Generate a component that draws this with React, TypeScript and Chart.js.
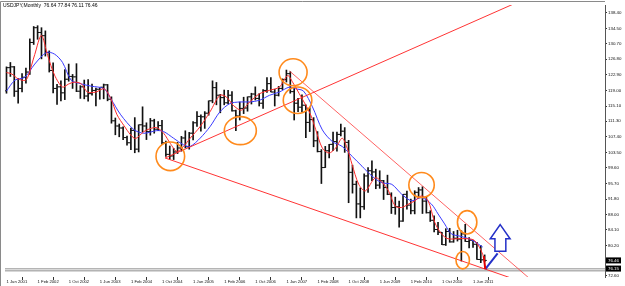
import React, { useEffect, useRef } from "react";
import { Chart, registerables } from "chart.js";

Chart.register(...registerables);

const symbolTitle = "USDJPY,Monthly  76.64 77.84 76.11 76.46";

// Monthly bars, Jun 2001 (index 0) .. Sep 2011 (index 123)
const opens = [
  118.9, 124.7, 124.9, 118.8, 119.5, 122.3, 123.6, 131.0, 134.7, 133.5, 132.7, 128.5,
  124.0, 119.5, 119.9, 118.4, 121.8, 122.5, 122.4, 118.8, 119.9, 117.6, 118.2, 119.0,
  119.3, 119.8, 120.4, 116.8, 111.4, 110.1, 109.6, 107.2, 105.9, 109.0, 104.3, 110.4,
  110.1, 108.7, 111.4, 109.3, 110.2, 105.9, 103.0, 102.6, 103.6, 104.6, 107.1, 104.9,
  108.3, 110.9, 112.5, 112.4, 113.3, 116.4, 119.7, 117.8, 117.2, 115.9, 117.8, 113.9,
  112.6, 114.5, 114.6, 117.4, 118.1, 117.0, 115.8, 119.0, 120.7, 118.6, 117.8, 119.5,
  121.7, 123.2, 118.7, 115.8, 114.8, 115.3, 111.0, 111.7, 106.4, 103.7, 99.7, 103.9,
  105.5, 106.2, 108.0, 108.8, 106.0, 98.5, 95.5, 90.6, 89.9, 97.6, 98.9, 98.6,
  95.3, 96.4, 94.7, 93.0, 89.7, 89.9, 86.3, 93.0, 90.3, 88.9, 93.5, 94.1,
  91.3, 88.4, 86.5, 84.2, 83.5, 80.4, 83.7, 81.1, 82.0, 81.8, 83.1, 81.2,
  81.5, 80.5, 76.7, 76.64,
];
const highs = [
  124.9, 126.0, 125.0, 122.0, 123.2, 124.6, 131.9, 135.0, 135.2, 134.7, 133.9, 128.9,
  125.9, 120.5, 121.4, 124.2, 125.6, 123.0, 125.7, 120.2, 121.6, 121.7, 120.6, 119.6,
  119.7, 120.6, 120.5, 117.4, 112.1, 110.6, 109.9, 107.6, 109.6, 112.2, 110.4, 114.9,
  110.9, 112.0, 111.8, 111.2, 111.5, 106.3, 105.1, 104.5, 106.0, 107.5, 108.9, 108.5,
  111.2, 113.7, 112.9, 113.7, 116.4, 121.4, 121.0, 118.0, 119.1, 119.0, 118.7, 114.1,
  116.1, 117.3, 117.4, 118.3, 119.9, 118.2, 119.2, 122.2, 122.2, 119.3, 120.0, 121.9,
  124.1, 123.7, 119.8, 117.0, 117.9, 115.4, 114.7, 112.2, 108.7, 104.2, 105.0, 105.5,
  108.6, 108.6, 110.6, 109.7, 106.5, 100.3, 96.3, 94.6, 98.1, 99.7, 101.4, 99.3,
  98.9, 96.5, 97.8, 93.4, 92.3, 91.3, 93.0, 93.8, 91.8, 93.9, 94.7, 94.9,
  92.5, 88.9, 87.6, 86.0, 83.5, 84.4, 84.5, 83.7, 84.0, 83.9, 85.5, 82.2,
  81.5, 81.0, 80.2, 77.84,
];
const lows = [
  118.3, 122.5, 117.5, 115.8, 118.6, 120.8, 123.0, 130.5, 131.8, 126.9, 127.6, 123.6,
  118.4, 115.5, 116.4, 116.7, 121.3, 119.5, 118.7, 117.0, 116.9, 116.3, 117.8, 115.1,
  116.8, 116.9, 116.4, 110.8, 107.9, 107.4, 106.7, 105.3, 104.2, 103.4, 103.6, 108.6,
  106.7, 107.8, 108.3, 108.9, 105.5, 102.5, 101.8, 101.7, 103.2, 103.8, 104.6, 104.3,
  106.6, 110.0, 108.8, 109.5, 112.8, 115.9, 115.4, 113.4, 115.4, 115.6, 113.8, 108.9,
  111.6, 113.2, 113.8, 115.6, 116.6, 115.1, 114.5, 118.5, 118.6, 115.1, 117.6, 119.2,
  121.1, 118.3, 111.6, 113.7, 113.6, 107.2, 108.7, 104.9, 103.6, 95.7, 99.7, 102.1,
  103.9, 103.8, 107.6, 103.5, 90.9, 93.3, 87.1, 87.1, 89.2, 93.5, 96.4, 94.4,
  94.5, 91.7, 92.9, 88.2, 88.0, 84.8, 86.2, 89.3, 88.1, 88.1, 92.0, 88.2,
  88.3, 86.2, 83.6, 82.9, 80.4, 80.2, 81.0, 81.0, 81.3, 76.3, 81.2, 79.6,
  79.7, 76.7, 75.9, 76.11,
];
const closes = [
  124.7, 124.9, 118.8, 119.5, 122.3, 123.6, 131.0, 134.7, 133.5, 132.7, 128.5, 124.0,
  119.5, 119.9, 118.4, 121.8, 122.5, 122.4, 118.8, 119.9, 117.6, 118.2, 119.0, 119.3,
  119.8, 120.4, 116.8, 111.4, 110.1, 109.6, 107.2, 105.9, 109.0, 104.3, 110.4, 110.1,
  108.7, 111.4, 109.3, 110.2, 105.9, 103.0, 102.6, 103.6, 104.6, 107.1, 104.9, 108.3,
  110.9, 112.5, 112.4, 113.3, 116.4, 119.7, 117.8, 117.2, 115.9, 117.8, 113.9, 112.6,
  114.5, 114.6, 117.4, 118.1, 117.0, 115.8, 119.0, 120.7, 118.6, 117.8, 119.5, 121.7,
  123.2, 118.7, 115.8, 114.8, 115.3, 111.0, 111.7, 106.4, 103.7, 99.7, 103.9, 105.5,
  106.2, 108.0, 108.8, 106.0, 98.5, 95.5, 90.6, 89.9, 97.6, 98.9, 98.6, 95.3,
  96.4, 94.7, 93.0, 89.7, 89.9, 86.3, 93.0, 90.3, 88.9, 93.5, 94.1, 91.3,
  88.4, 86.5, 84.2, 83.5, 80.4, 83.7, 81.1, 82.0, 81.8, 83.1, 81.2, 81.5,
  80.5, 76.7, 76.6, 76.46,
];

// Fast (red) moving average: bar index / price
const redMaIdx = [
  0, 1.33, 3.01, 4.72, 5.48, 7.27, 8.98, 10.59, 12.37, 14.41, 15.94, 17.47, 19.26, 20.79,
  23.01, 25.13, 26.84, 28.44, 30.23, 31.94, 33.21, 35.33, 36.86, 38.65, 40.43, 42.14, 43.83,
  45.54, 47.24, 49.8, 52.35, 54.9, 56.58, 58.29, 60.41, 62.55, 65.1, 67.65, 70.2, 72.32,
  73.6, 75.31, 76.99, 78.27, 79.54, 81.25, 82.96, 84.64, 86.35, 87.63, 88.9, 90.61, 92.3,
  94.85, 96.56, 98.27, 99.95, 101.66, 103.37, 105.05, 106.76, 108.47, 110.15, 111.86,
  113.57, 116.12, 118.67, 120.36, 122.07, 122.91,
];
const redMaVal = [
  123.47, 123.13, 121.89, 121.49, 122.31, 128.0, 132.78, 127.76, 122.81, 119.84, 120.58,
  121.07, 120.65, 118.6, 118.6, 119.41, 116.94, 112.9, 110.18, 107.88, 106.96, 108.7, 109.4,
  109.69, 108.28, 105.73, 103.75, 104.98, 107.04, 109.93, 113.65, 117.78, 117.36, 115.31,
  114.07, 116.12, 118.18, 119.02, 119.84, 122.73, 121.07, 118.18, 115.31, 112.83, 109.2,
  104.56, 103.33, 104.56, 107.04, 104.56, 100.45, 95.5, 93.85, 97.14, 96.07, 93.85, 90.13,
  89.71, 90.55, 91.37, 92.61, 91.37, 86.0, 83.13, 81.89, 81.89, 81.89, 81.47, 78.99, 76.77,
];
// Slow (blue) moving average
const blueMaIdx = [
  0, 2.17, 4.72, 7.27, 10.26, 12.37, 14.41, 16.63, 19.18, 21.73, 25.13, 26.84, 29.39, 32.78,
  35.33, 38.65, 40.43, 42.98, 45.54, 47.24, 49.8, 52.35, 54.9, 57.45, 60.0, 62.55, 65.1,
  67.65, 70.2, 72.76, 74.44, 76.4, 78.7, 81.25, 83.8, 86.35, 88.9, 91.45, 94.01, 96.56,
  99.11, 101.66, 104.21, 106.76, 109.31, 111.02, 112.7, 114.41, 116.96, 119.52, 122.5,
];
const blueMaVal = [
  118.84, 121.57, 122.31, 125.6, 128.5, 128.08, 126.02, 121.57, 120.65, 120.08, 119.41,
  116.94, 112.9, 109.19, 108.28, 108.94, 108.7, 107.04, 105.4, 104.98, 107.04, 109.93,
  113.65, 115.7, 116.12, 116.12, 116.54, 117.78, 118.6, 119.84, 119.41, 118.84, 114.89,
  109.12, 106.22, 104.98, 102.51, 100.03, 97.56, 95.9, 95.5, 93.03, 91.37, 92.19, 90.55,
  88.08, 85.6, 83.13, 82.46, 81.64, 79.81,
];

// Axis ticks
const xTickIndex = [0, 8, 16, 24, 32, 40, 48, 56, 64, 72, 80, 88, 96, 104, 112, 120];
const xTickLabels = [
  "1 Jun 2001", "1 Feb 2002", "1 Oct 2002", "1 Jun 2003", "1 Feb 2004", "1 Oct 2004",
  "1 Jun 2005", "1 Feb 2006", "1 Oct 2006", "1 Jun 2007", "1 Feb 2008", "1 Oct 2008",
  "1 Jun 2009", "1 Feb 2010", "1 Oct 2010", "1 Jun 2011",
];
const yTickValues = [
  138.4, 134.5, 130.7, 126.8, 122.9, 119.0, 115.1, 111.3, 107.4, 103.5, 99.6, 95.7, 91.8,
  88.0, 84.1, 80.2, 72.6,
];
const bidLabels = ["76.46", "76.15"];
const bidValues = [76.46, 74.42];

// Drawn objects (bar index / price)
const trendUpX = [40.8, 140];
const trendUpY = [102.1, 144.75];
const trendLowX = [40.8, 131];
const trendLowY = [102.1, 71.64];
const trendDownX = [72.8, 136];
const trendDownY = [123.86, 70.7];
const hLineX = [-1, 160];
const hLineGrayY = 74.35;
const hLineDarkY = 73.85;
const vRedX = [122.76, 123.16];
const vRedY = [77.51, 74.29];
const vBlueX = [123.16, 126.33];
const vBlueY = [74.29, 78.25];
const circleX = [42.14, 60.15, 73.72, 74.87, 106.76, 118.49, 117.35];
const circleY = [102.51, 108.94, 123.55, 116.54, 95.33, 85.99, 76.52];
const arrowX = [126.99, 129.54, 128.44, 128.44, 125.64, 125.64, 124.44];
const arrowY = [85.43, 81.89, 81.89, 78.75, 78.75, 81.89, 81.89];

const circleRx = [14.3, 16, 14, 14.3, 12.7, 9.7, 6.7];
const circleRy = [14.3, 14, 13.5, 13.3, 12.5, 11.7, 8.7];

const BAR_COLOR = "#111111";
const FONT = '"Liberation Sans", Arial, sans-serif';

const pts = (xs: number[], ys: number[]) => xs.map((x, i) => ({ x, y: ys[i] }));

const overlayPlugin = {
  id: "overlay",
  afterDatasetsDraw(chart: any) {
    const { ctx, scales } = chart;
    const xs = scales.x;
    const ys = scales.y;
    ctx.save();
    ctx.strokeStyle = "#ff8a1c";
    ctx.lineWidth = 1.6;
    circleX.forEach((cx, i) => {
      ctx.beginPath();
      ctx.ellipse(
        xs.getPixelForValue(cx),
        ys.getPixelForValue(circleY[i]),
        circleRx[i],
        circleRy[i],
        0,
        0,
        Math.PI * 2
      );
      ctx.stroke();
    });
    ctx.beginPath();
    arrowX.forEach((ax, i) => {
      const px = xs.getPixelForValue(ax);
      const py = ys.getPixelForValue(arrowY[i]);
      if (i === 0) ctx.moveTo(px, py);
      else ctx.lineTo(px, py);
    });
    ctx.closePath();
    ctx.fillStyle = "#ffffff";
    ctx.fill();
    ctx.strokeStyle = "#2430c8";
    ctx.lineWidth = 1.5;
    ctx.stroke();
    ctx.restore();
  },
  afterDraw(chart: any) {
    const { ctx, scales, chartArea } = chart;
    const ys = scales.y;
    ctx.save();
    ctx.strokeStyle = "#8a8a8a";
    ctx.lineWidth = 1;
    ctx.beginPath();
    ctx.moveTo(0.5, 286);
    ctx.lineTo(0.5, 1.5);
    ctx.lineTo(chartArea.right, 1.5);
    ctx.stroke();
    ctx.fillStyle = "#000000";
    ctx.font = `5px ${FONT}`;
    ctx.textBaseline = "middle";
    ctx.textAlign = "left";
    ctx.fillText(symbolTitle, 3, 6);
    bidValues.forEach((v, i) => {
      const py = ys.getPixelForValue(v);
      ctx.fillStyle = "#000000";
      ctx.fillRect(chartArea.right + 1, py - 3, 15, 6);
      ctx.fillStyle = "#ffffff";
      ctx.font = `4.4px ${FONT}`;
      ctx.fillText(bidLabels[i], chartArea.right + 3, py + 0.3);
    });
    ctx.restore();
  },
};

export default function App() {
  const ref = useRef<HTMLCanvasElement>(null);
  useEffect(() => {
    const canvas = ref.current;
    if (!canvas) return;
    const chart = new Chart(canvas, {
      type: "line",
      data: {
        datasets: [
          {
            type: "line",
            data: pts(vRedX, vRedY),
            borderColor: "#e00000",
            borderWidth: 2,
            pointRadius: 0,
            order: 0,
          },
          {
            type: "line",
            data: pts(vBlueX, vBlueY),
            borderColor: "#2430c8",
            borderWidth: 2,
            pointRadius: 0,
            order: 0,
          },
          {
            type: "line",
            data: pts(trendUpX, trendUpY),
            borderColor: "rgba(255,30,30,0.9)",
            borderWidth: 1,
            pointRadius: 0,
            order: 1,
          },
          {
            type: "line",
            data: pts(trendLowX, trendLowY),
            borderColor: "rgba(255,30,30,0.9)",
            borderWidth: 1,
            pointRadius: 0,
            order: 1,
          },
          {
            type: "line",
            data: pts(trendDownX, trendDownY),
            borderColor: "rgba(255,60,60,0.8)",
            borderWidth: 1,
            pointRadius: 0,
            order: 1,
          },
          {
            type: "line",
            data: pts(redMaIdx, redMaVal),
            borderColor: "#ff2a2a",
            borderWidth: 1,
            pointRadius: 0,
            tension: 0.3,
            order: 2,
          },
          {
            type: "line",
            data: pts(blueMaIdx, blueMaVal),
            borderColor: "#3a3aff",
            borderWidth: 1,
            pointRadius: 0,
            tension: 0.3,
            order: 2,
          },
          {
            type: "line",
            data: pts(hLineX, [hLineGrayY, hLineGrayY]),
            borderColor: "#b4b4b4",
            borderWidth: 1.5,
            pointRadius: 0,
            order: 3,
          },
          {
            type: "line",
            data: pts(hLineX, [hLineDarkY, hLineDarkY]),
            borderColor: "#8c8c8c",
            borderWidth: 1,
            pointRadius: 0,
            order: 3,
          },
          {
            type: "line",
            data: opens.map((o, i) => ({ x: i - 0.3, y: o })),
            showLine: false,
            pointStyle: "line",
            pointRadius: 1,
            pointBorderWidth: 1,
            pointBorderColor: BAR_COLOR,
            order: 4,
          },
          {
            type: "line",
            data: closes.map((c, i) => ({ x: i + 0.3, y: c })),
            showLine: false,
            pointStyle: "line",
            pointRadius: 1,
            pointBorderWidth: 1,
            pointBorderColor: BAR_COLOR,
            order: 4,
          },
          {
            type: "bar",
            data: highs.map((h, i) => ({ x: i, y: [lows[i], h] })) as any,
            backgroundColor: BAR_COLOR,
            borderWidth: 0,
            barThickness: 1,
            order: 5,
          },
        ] as any,
      },
      options: {
        responsive: false,
        maintainAspectRatio: false,
        animation: false,
        layout: { padding: { top: 2, left: 0, right: 0, bottom: 0 } },
        plugins: {
          legend: { display: false },
          tooltip: { enabled: false },
          title: { display: false },
        },
        scales: {
          x: {
            type: "linear",
            min: -0.383,
            max: 153.95,
            offset: false,
            grid: {
              display: true,
              drawOnChartArea: false,
              drawTicks: true,
              tickLength: 3,
              tickColor: "#333333",
            },
            border: { display: false },
            ticks: {
              autoSkip: false,
              maxRotation: 0,
              minRotation: 0,
              align: "start",
              padding: 0,
              color: "#111111",
              font: { family: FONT, size: 4.2, lineHeight: 1 },
              callback: (v: any) => {
                const k = xTickIndex.indexOf(Number(v));
                return k >= 0 ? xTickLabels[k] : "";
              },
            },
            afterBuildTicks: (s: any) => {
              s.ticks = xTickIndex.map((v) => ({ value: v }));
            },
            afterFit: (s: any) => {
              s.height = 9;
              s.paddingLeft = 0;
              s.paddingRight = 0;
            },
          },
          y: {
            type: "linear",
            position: "right",
            min: 72.31,
            max: 140.38,
            grid: {
              display: true,
              drawOnChartArea: false,
              drawTicks: true,
              tickLength: 2,
              tickColor: "#333333",
            },
            border: { display: true, color: "#555555", width: 1 },
            ticks: {
              padding: 1,
              color: "#111111",
              font: { family: FONT, size: 4.4, lineHeight: 0.8 },
              callback: (v: any) => Number(v).toFixed(2),
            },
            afterBuildTicks: (s: any) => {
              s.ticks = yTickValues.map((v) => ({ value: v }));
            },
            afterFit: (s: any) => {
              s.width = 20;
              s.paddingTop = 0;
              s.paddingBottom = 0;
            },
          },
        },
      } as any,
      plugins: [overlayPlugin],
    });
    return () => chart.destroy();
  }, []);
  return (
    <div
      style={{
        position: "fixed",
        left: 0,
        top: 0,
        width: 625,
        height: 286,
        background: "#ffffff",
      }}
    >
      <canvas
        ref={ref}
        width={625}
        height={286}
        style={{ width: 625, height: 286, display: "block" }}
      />
    </div>
  );
}
